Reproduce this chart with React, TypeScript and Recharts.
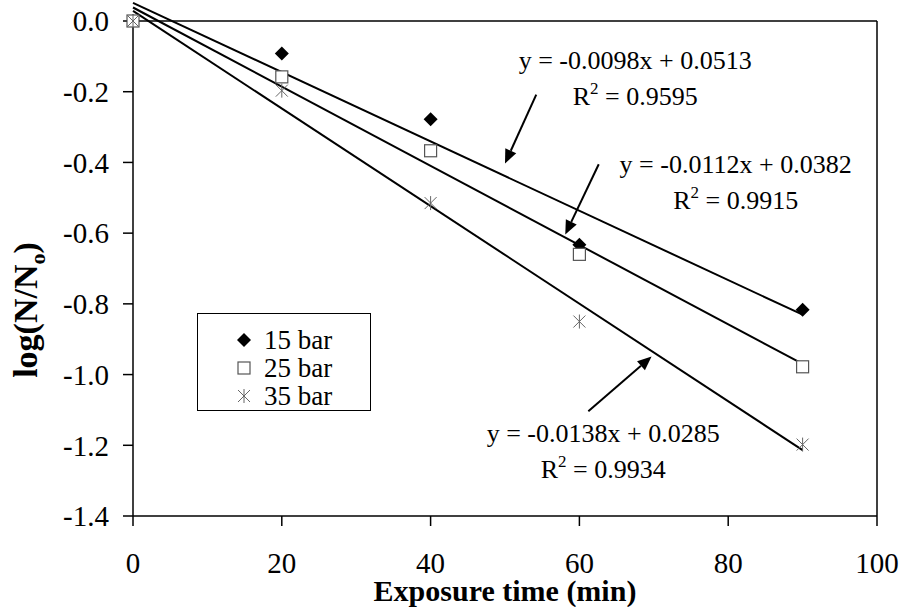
import {
  ComposedChart,
  Label,
  Legend,
  ReferenceDot,
  ReferenceLine,
  Scatter,
  XAxis,
  YAxis,
} from "recharts";

const FONT = '"Liberation Serif", "Times New Roman", serif';

// exposure times (min) and log(N/N0) readings per pressure
const TIMES = [0, 20, 40, 60, 90];
const BAR_15 = [0, -0.092, -0.278, -0.633, -0.817];
const BAR_25 = [0, -0.158, -0.367, -0.66, -0.978];
const BAR_35 = [0, -0.197, -0.515, -0.85, -1.198];

const SERIES_NAMES = ["15 bar", "25 bar", "35 bar"];

// linear trendlines as printed on the chart
const SLOPES = [-0.0098, -0.0112, -0.0138];
const INTERCEPTS = [0.0513, 0.0382, 0.0285];
const R_SQUARED = ["0.9595", "0.9915", "0.9934"];
const FIT_END = 90;

const X_TICKS = [0, 20, 40, 60, 80, 100];
const Y_TICKS = [0, -0.2, -0.4, -0.6, -0.8, -1.0, -1.2, -1.4];

// where the equation boxes and arrows sit, in data units
const LABEL_AT = [
  { x: 67.5, y: -0.111 },
  { x: 81.0, y: -0.405 },
  { x: 63.2, y: -1.164 },
];
const ARROWS = [
  [{ x: 54.2, y: -0.208 }, { x: 50.0, y: -0.403 }],
  [{ x: 62.6, y: -0.405 }, { x: 58.1, y: -0.604 }],
  [{ x: 61.2, y: -1.104 }, { x: 69.7, y: -0.949 }],
];

const toRows = (values: number[]) =>
  TIMES.map((time, i) => ({ time, value: values[i] }));

function Diamond({ cx, cy }: any) {
  const r = 7;
  return (
    <polygon
      points={`${cx},${cy - r} ${cx + r},${cy} ${cx},${cy + r} ${cx - r},${cy}`}
      fill="#000"
    />
  );
}

function Square({ cx, cy }: any) {
  const h = 6;
  return (
    <rect x={cx - h} y={cy - h} width={h * 2} height={h * 2} fill="#fff" stroke="#555" strokeWidth={1.2} />
  );
}

function Asterisk({ cx, cy }: any) {
  const r = 7;
  const d = 6;
  return (
    <g stroke="#666" strokeWidth={1}>
      <line x1={cx} y1={cy - r} x2={cx} y2={cy + r} />
      <line x1={cx - d} y1={cy - d} x2={cx + d} y2={cy + d} />
      <line x1={cx - d} y1={cy + d} x2={cx + d} y2={cy - d} />
    </g>
  );
}

const MARKERS = [Diamond, Square, Asterisk];

function Arrow(props: any) {
  const { x1, y1, x2, y2 } = props;
  const ang = Math.atan2(y2 - y1, x2 - x1);
  const len = 14;
  const half = 6;
  const bx = x2 - len * Math.cos(ang);
  const by = y2 - len * Math.sin(ang);
  const nx = -Math.sin(ang) * half;
  const ny = Math.cos(ang) * half;
  return (
    <g>
      <line x1={x1} y1={y1} x2={bx} y2={by} stroke="#000" strokeWidth={2} />
      <polygon points={`${x2},${y2} ${bx + nx},${by + ny} ${bx - nx},${by - ny}`} fill="#000" />
    </g>
  );
}

function equationText(i: number) {
  const slope = SLOPES[i].toFixed(4);
  return `y = ${slope}x + ${INTERCEPTS[i].toFixed(4)}`;
}

function EquationLabel({ cx, cy, index }: any) {
  return (
    <g fontFamily={FONT} fontSize={26} fill="#000">
      <text x={cx} y={cy + 9} textAnchor="middle">
        {equationText(index)}
      </text>
      <text x={cx} y={cy + 45} textAnchor="middle">
        <tspan>R</tspan>
        <tspan dy={-11} fontSize={17}>2</tspan>
        <tspan dy={11}>{` = ${R_SQUARED[index]}`}</tspan>
      </text>
    </g>
  );
}

function LegendBox() {
  return (
    <div
      style={{
        border: "1px solid #000",
        background: "#fff",
        width: 174,
        height: 98,
        boxSizing: "border-box",
        paddingTop: 12,
        fontFamily: FONT,
        fontSize: 27,
      }}
    >
      {SERIES_NAMES.map((name, i) => {
        const Marker = MARKERS[i];
        return (
          <div key={name} style={{ display: "flex", alignItems: "center", height: 28 }}>
            <svg width={60} height={20}>
              <Marker cx={46} cy={10} />
            </svg>
            <span style={{ marginLeft: 6, lineHeight: "28px" }}>{name}</span>
          </div>
        );
      })}
    </div>
  );
}

function XTitle() {
  return (
    <text x={505} y={601} textAnchor="middle" fontFamily={FONT} fontWeight="bold" fontSize={30} fill="#000">
      Exposure time (min)
    </text>
  );
}

function YTitle() {
  return (
    <text
      x={37}
      y={310}
      transform="rotate(-90 37 310)"
      textAnchor="middle"
      fontFamily={FONT}
      fontWeight="bold"
      fontSize={34}
      fill="#000"
    >
      <tspan>log(N/N</tspan>
      <tspan dy={8} fontSize={22}>o</tspan>
      <tspan dy={-8}>)</tspan>
    </text>
  );
}

export default function App() {
  const tick = { fontFamily: FONT, fontSize: 29, fill: "#000" };
  const seriesData = [BAR_15, BAR_25, BAR_35];

  return (
    <div style={{ position: "absolute", left: 0, top: 0 }}>
      <ComposedChart width={904} height={607} margin={{ top: 21, right: 27, bottom: 0, left: 0 }}>
        <XAxis
          dataKey="time"
          type="number"
          domain={[0, 100]}
          ticks={X_TICKS}
          interval={0}
          height={91}
          tickSize={10}
          tickMargin={26}
          tick={tick}
          axisLine={{ stroke: "#000", strokeWidth: 1.5 }}
          tickLine={{ stroke: "#000", strokeWidth: 1.5 }}
        >
          <Label content={XTitle} />
        </XAxis>
        <YAxis
          type="number"
          domain={[-1.4, 0]}
          ticks={Y_TICKS}
          interval={0}
          width={133}
          tickSize={10}
          tickMargin={14}
          tick={tick}
          tickFormatter={(v: number) => v.toFixed(1)}
          axisLine={{ stroke: "#000", strokeWidth: 1.5 }}
          tickLine={{ stroke: "#000", strokeWidth: 1.5 }}
        >
          <Label content={YTitle} />
        </YAxis>

        {/* frame on top and right */}
        <ReferenceLine y={0} stroke="#000" strokeWidth={1.5} />
        <ReferenceLine x={100} stroke="#000" strokeWidth={1.5} />

        {SLOPES.map((slope, i) => (
          <ReferenceLine
            key={`fit-${i}`}
            ifOverflow="visible"
            stroke="#000"
            strokeWidth={2}
            segment={[
              { x: 0, y: INTERCEPTS[i] },
              { x: FIT_END, y: slope * FIT_END + INTERCEPTS[i] },
            ]}
          />
        ))}

        {seriesData.map((values, i) => (
          <Scatter
            key={SERIES_NAMES[i]}
            name={SERIES_NAMES[i]}
            data={toRows(values)}
            dataKey="value"
            shape={MARKERS[i]}
            isAnimationActive={false}
          />
        ))}

        {ARROWS.map((seg, i) => (
          <ReferenceLine key={`arrow-${i}`} ifOverflow="visible" segment={seg} shape={Arrow} />
        ))}

        {LABEL_AT.map((p, i) => (
          <ReferenceDot
            key={`eq-${i}`}
            x={p.x}
            y={p.y}
            r={0}
            ifOverflow="visible"
            shape={(props: any) => <EquationLabel {...props} index={i} />}
          />
        ))}

        <Legend
          layout="vertical"
          align="center"
          verticalAlign="middle"
          content={LegendBox}
          wrapperStyle={{ left: 197, top: 313, width: 176 }}
        />
      </ComposedChart>
    </div>
  );
}
